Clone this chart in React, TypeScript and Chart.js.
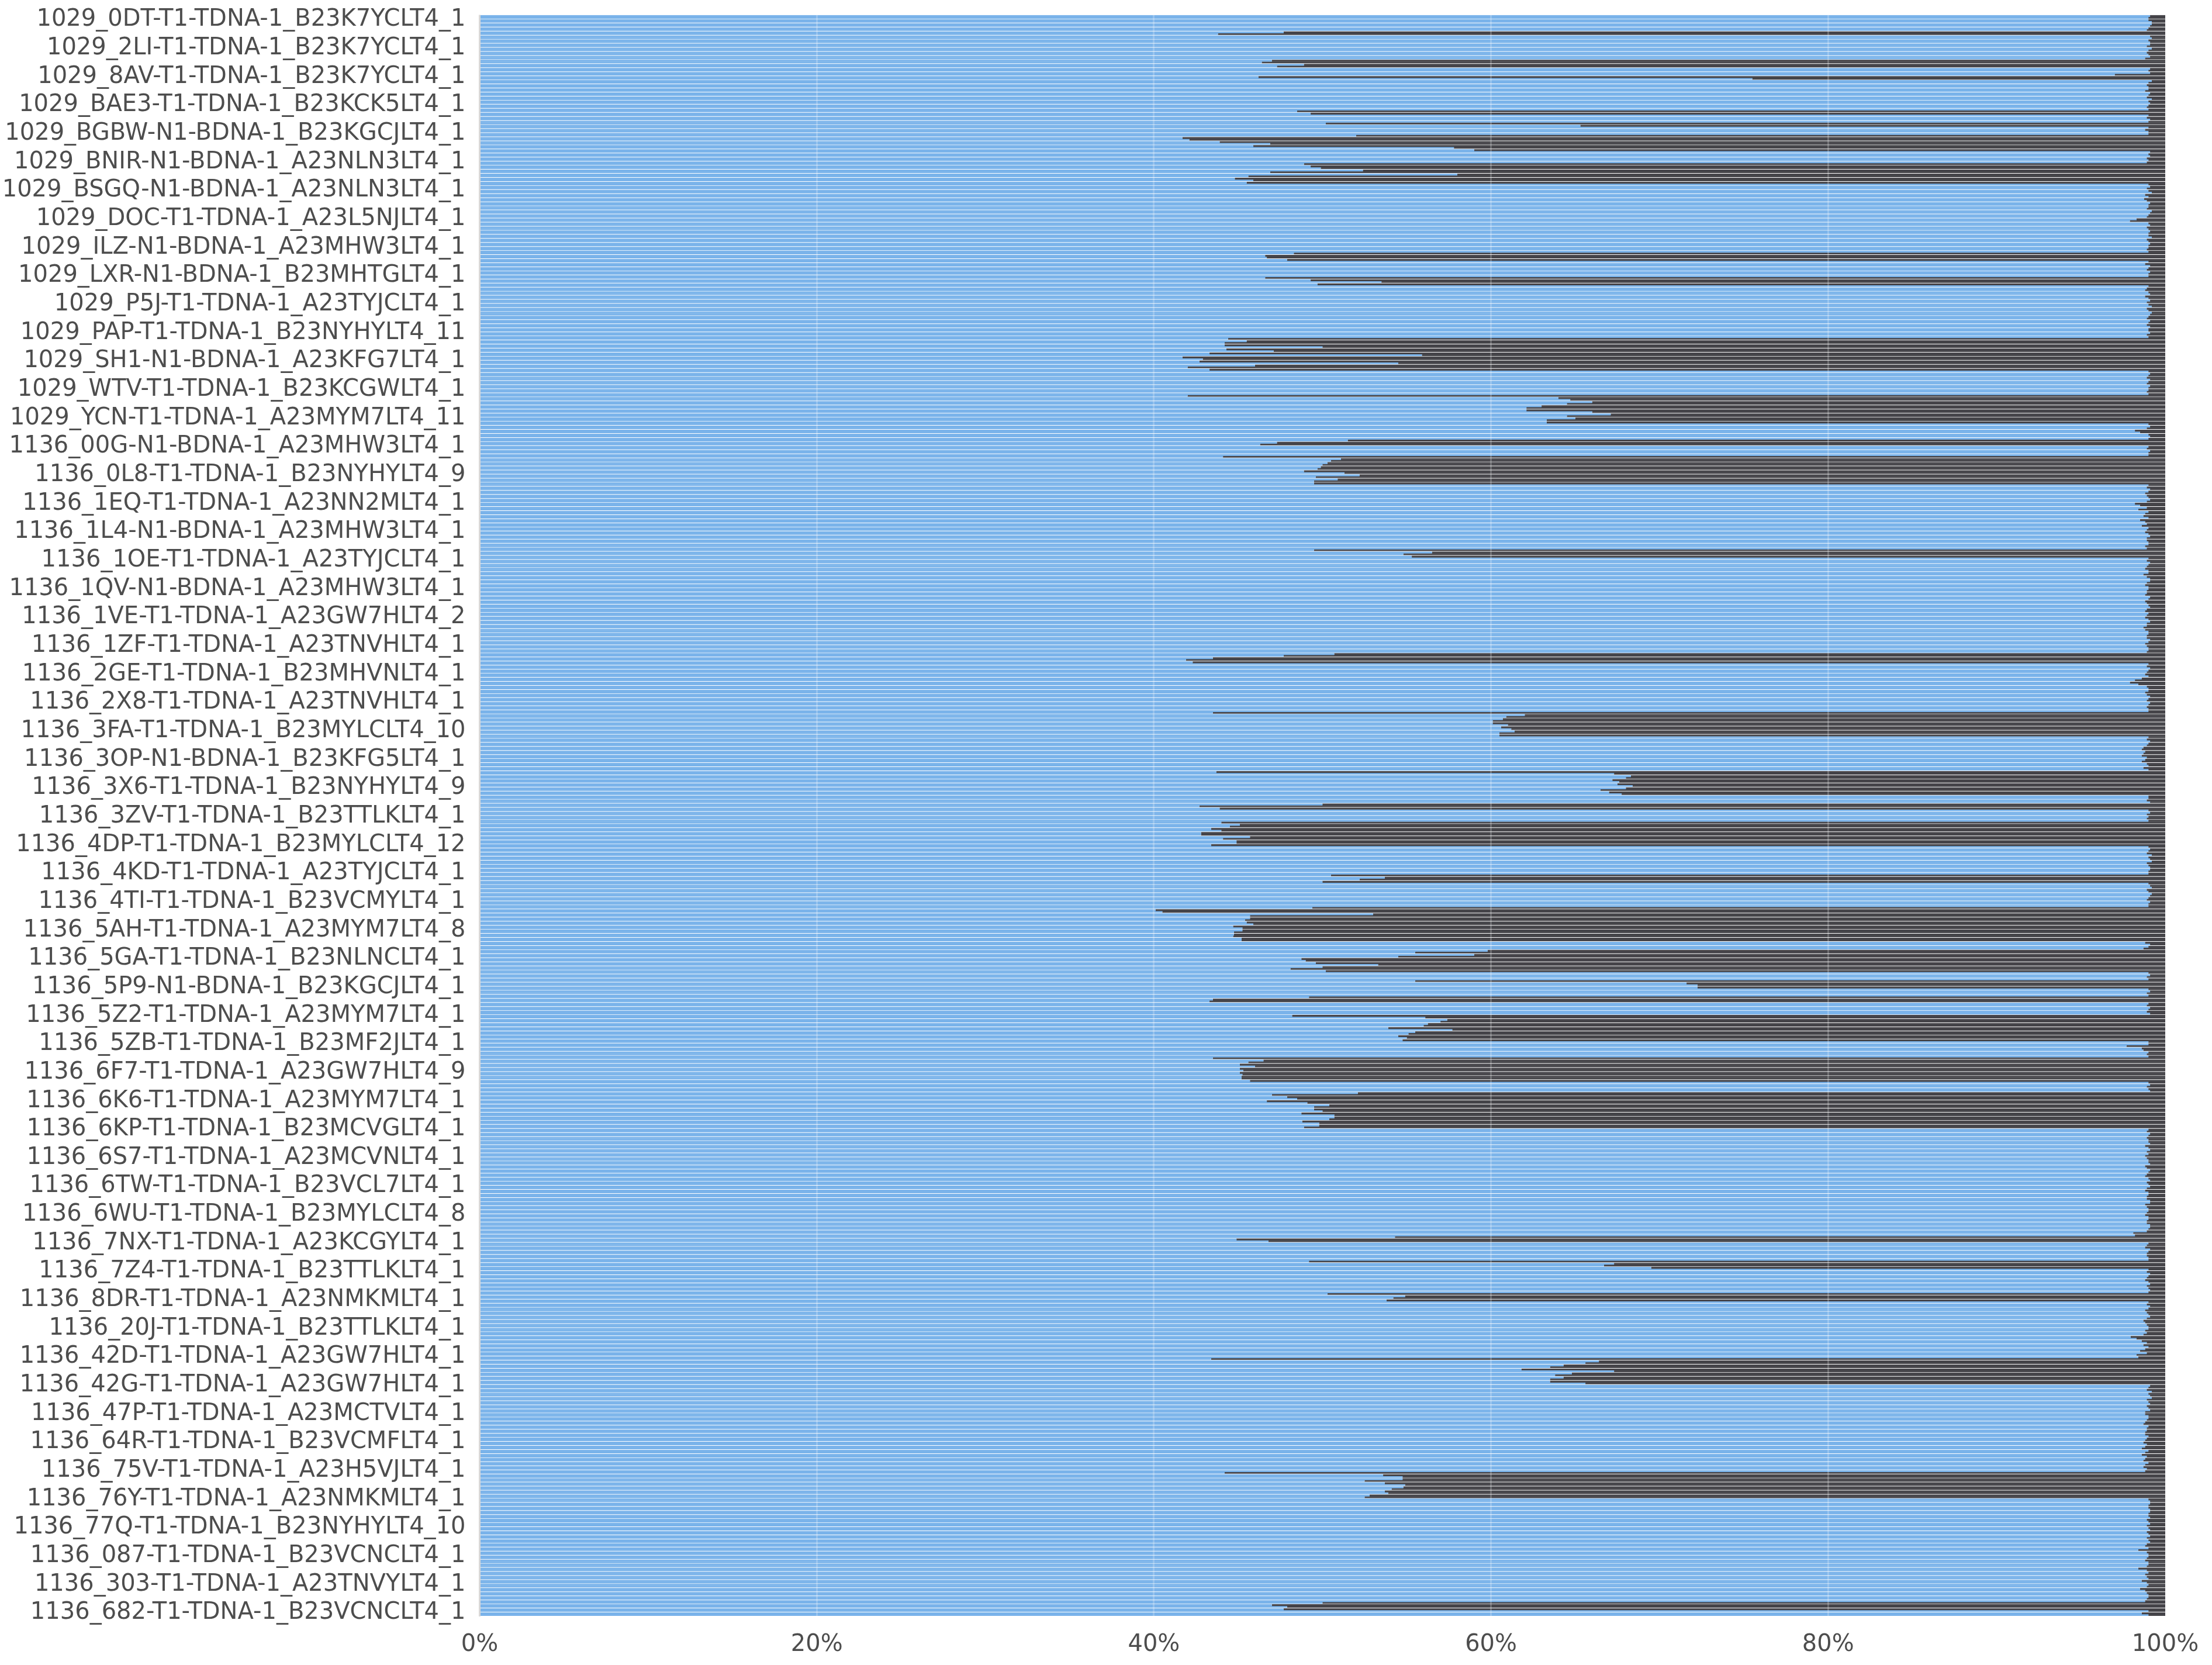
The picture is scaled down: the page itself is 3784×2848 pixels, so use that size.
import React, { useEffect, useRef } from 'react';
import { Chart, registerables } from 'chart.js';

Chart.register(...registerables);

// one labelled sample every 7 rows (each row = one white-separated stripe with an upper and a lower sub-bar)
const sampleNames = [
  '1029_0DT-T1-TDNA-1_B23K7YCLT4_1',
  '1029_2LI-T1-TDNA-1_B23K7YCLT4_1',
  '1029_8AV-T1-TDNA-1_B23K7YCLT4_1',
  '1029_BAE3-T1-TDNA-1_B23KCK5LT4_1',
  '1029_BGBW-N1-BDNA-1_B23KGCJLT4_1',
  '1029_BNIR-N1-BDNA-1_A23NLN3LT4_1',
  '1029_BSGQ-N1-BDNA-1_A23NLN3LT4_1',
  '1029_DOC-T1-TDNA-1_A23L5NJLT4_1',
  '1029_ILZ-N1-BDNA-1_A23MHW3LT4_1',
  '1029_LXR-N1-BDNA-1_B23MHTGLT4_1',
  '1029_P5J-T1-TDNA-1_A23TYJCLT4_1',
  '1029_PAP-T1-TDNA-1_B23NYHYLT4_11',
  '1029_SH1-N1-BDNA-1_A23KFG7LT4_1',
  '1029_WTV-T1-TDNA-1_B23KCGWLT4_1',
  '1029_YCN-T1-TDNA-1_A23MYM7LT4_11',
  '1136_00G-N1-BDNA-1_A23MHW3LT4_1',
  '1136_0L8-T1-TDNA-1_B23NYHYLT4_9',
  '1136_1EQ-T1-TDNA-1_A23NN2MLT4_1',
  '1136_1L4-N1-BDNA-1_A23MHW3LT4_1',
  '1136_1OE-T1-TDNA-1_A23TYJCLT4_1',
  '1136_1QV-N1-BDNA-1_A23MHW3LT4_1',
  '1136_1VE-T1-TDNA-1_A23GW7HLT4_2',
  '1136_1ZF-T1-TDNA-1_A23TNVHLT4_1',
  '1136_2GE-T1-TDNA-1_B23MHVNLT4_1',
  '1136_2X8-T1-TDNA-1_A23TNVHLT4_1',
  '1136_3FA-T1-TDNA-1_B23MYLCLT4_10',
  '1136_3OP-N1-BDNA-1_B23KFG5LT4_1',
  '1136_3X6-T1-TDNA-1_B23NYHYLT4_9',
  '1136_3ZV-T1-TDNA-1_B23TTLKLT4_1',
  '1136_4DP-T1-TDNA-1_B23MYLCLT4_12',
  '1136_4KD-T1-TDNA-1_A23TYJCLT4_1',
  '1136_4TI-T1-TDNA-1_B23VCMYLT4_1',
  '1136_5AH-T1-TDNA-1_A23MYM7LT4_8',
  '1136_5GA-T1-TDNA-1_B23NLNCLT4_1',
  '1136_5P9-N1-BDNA-1_B23KGCJLT4_1',
  '1136_5Z2-T1-TDNA-1_A23MYM7LT4_1',
  '1136_5ZB-T1-TDNA-1_B23MF2JLT4_1',
  '1136_6F7-T1-TDNA-1_A23GW7HLT4_9',
  '1136_6K6-T1-TDNA-1_A23MYM7LT4_1',
  '1136_6KP-T1-TDNA-1_B23MCVGLT4_1',
  '1136_6S7-T1-TDNA-1_A23MCVNLT4_1',
  '1136_6TW-T1-TDNA-1_B23VCL7LT4_1',
  '1136_6WU-T1-TDNA-1_B23MYLCLT4_8',
  '1136_7NX-T1-TDNA-1_A23KCGYLT4_1',
  '1136_7Z4-T1-TDNA-1_B23TTLKLT4_1',
  '1136_8DR-T1-TDNA-1_A23NMKMLT4_1',
  '1136_20J-T1-TDNA-1_B23TTLKLT4_1',
  '1136_42D-T1-TDNA-1_A23GW7HLT4_1',
  '1136_42G-T1-TDNA-1_A23GW7HLT4_1',
  '1136_47P-T1-TDNA-1_A23MCTVLT4_1',
  '1136_64R-T1-TDNA-1_B23VCMFLT4_1',
  '1136_75V-T1-TDNA-1_A23H5VJLT4_1',
  '1136_76Y-T1-TDNA-1_A23NMKMLT4_1',
  '1136_77Q-T1-TDNA-1_B23NYHYLT4_10',
  '1136_087-T1-TDNA-1_B23VCNCLT4_1',
  '1136_303-T1-TDNA-1_A23TNVYLT4_1',
  '1136_682-T1-TDNA-1_B23VCNCLT4_1',
];
const rowsPerSample = 7;

// % of the row that is light blue (upper sub-bar of each stripe); the rest up to 100% is dark
const blueUpper = [
  99.1, 99.0, 99.2, 99.0, 47.7, 99.1, 99.0,
  99.1, 99.2, 98.9, 99.1, 47.0, 48.9, 99.1, 99.1,
  46.2, 99.2, 98.9, 99.0, 99.1, 98.9, 99.0,
  99.0, 99.0, 49.3, 98.9, 99.0, 65.3, 98.8,
  99.0, 41.7, 43.9, 45.9, 59.0, 99.0, 98.9,
  98.9, 49.3, 52.4, 58.0, 44.8, 45.5, 99.1,
  99.0, 98.8, 98.75, 99.1, 99.0, 99.2, 99.0,
  98.3, 99.0, 98.9, 99.1, 99.0, 98.9, 99.1,
  99.0, 99.0, 46.6, 47.9, 98.8, 99.0, 99.1,
  99.0, 49.3, 49.7, 98.9, 99.0, 98.8, 99.1,
  99.0, 98.9, 99.2, 99.0, 99.1, 98.9, 99.0,
  99.1, 99.0, 45.5, 44.2, 44.3, 43.3, 41.7,
  42.7, 46.0, 43.3, 99.1, 98.9, 99.0, 99.1,
  99.0, 99.0, 64.0, 66.0, 63.0, 62.1, 67.1,
  65.0, 63.3, 99.1, 98.2, 99.0, 99.0, 47.3,
  99.0, 99.1, 99.0, 51.1, 50.3, 49.9, 48.9,
  52.2, 50.9, 49.5, 98.9, 99.0, 98.9, 99.1,
  98.2, 98.9, 99.0, 98.7, 98.5, 98.9, 99.0,
  98.8, 99.1, 98.9, 99.0, 98.9, 56.5, 55.3,
  98.9, 99.0, 98.8, 99.0, 98.9, 99.1, 98.8,
  99.0, 98.9, 99.1, 98.8, 99.0, 98.9, 99.0,
  98.8, 99.1, 98.9, 98.8, 99.0, 98.9, 99.0,
  98.9, 99.0, 50.7, 43.5, 42.3, 98.9, 99.0,
  98.8, 98.6, 97.9, 98.9, 99.0, 98.9, 99.0,
  99.1, 98.9, 99.0, 62.0, 60.7, 60.1, 60.6,
  61.4, 60.5, 98.9, 99.0, 98.7, 98.8, 98.6,
  98.8, 98.9, 98.7, 43.7, 68.3, 67.2, 67.5,
  68.0, 67.0, 99.0, 98.9, 50.0, 43.9, 99.1,
  99.0, 99.0, 45.1, 43.4, 42.8, 45.7, 44.9,
  43.4, 99.1, 98.9, 99.0, 99.2, 99.0, 99.1,
  99.0, 53.7, 50.0, 99.1, 98.9, 99.2, 99.0,
  99.1, 99.0, 40.1, 53.0, 45.7, 45.5, 44.7,
  45.25, 44.75, 45.2, 98.8, 99.0, 59.8, 59.0,
  48.75, 49.6, 50.0, 50.2, 99.1, 99.0, 71.6,
  72.25, 99.1, 99.0, 43.5, 99.0, 99.1, 98.9,
  48.2, 57.4, 56.25, 53.9, 55.5, 54.5, 54.75,
  99.0, 98.6, 99.0, 99.0, 46.5, 45.1, 45.1,
  45.1, 45.2, 45.7, 99.1, 99.0, 52.1, 47.9,
  46.7, 50.4, 49.5, 48.75, 50.7, 48.8, 49.8,
  99.0, 99.1, 98.9, 99.0, 98.8, 99.1, 99.0,
  98.9, 99.0, 98.8, 99.1, 98.9, 99.0, 98.9,
  99.1, 98.8, 99.0, 98.9, 99.1, 98.9, 99.0,
  98.8, 99.0, 98.9, 99.1, 98.9, 98.2, 44.9,
  99.0, 98.8, 99.0, 98.9, 99.0, 67.3, 69.5,
  98.9, 99.0, 98.8, 99.1, 99.0, 99.0, 54.9,
  53.8, 98.9, 99.0, 98.9, 99.1, 98.7, 98.9,
  99.0, 98.9, 97.95, 98.6, 98.7, 98.8, 98.9,
  98.4, 66.4, 64.3, 61.8, 64.8, 64.3, 63.5,
  99.1, 98.9, 99.0, 99.2, 99.0, 98.9, 99.1,
  98.8, 99.0, 98.8, 99.0, 98.9, 98.8, 98.9,
  98.7, 98.8, 99.0, 98.6, 98.8, 99.0, 98.7,
  98.8, 53.6, 54.75, 53.7, 54.8, 53.7, 52.8,
  99.0, 99.1, 99.0, 99.1, 99.0, 98.9, 99.1,
  99.0, 98.9, 99.1, 99.0, 98.9, 99.0, 98.9,
  99.0, 98.8, 99.0, 98.4, 99.0, 98.9, 98.6,
  99.0, 98.5, 98.9, 99.0, 98.8, 47.0, 47.7,
  98.6,
];

// % light blue for the lower sub-bar of each stripe
const blueLower = [
  99.0, 99.2, 99.1, 98.9, 43.8, 99.2, 99.1,
  98.9, 99.0, 99.0, 98.8, 46.4, 47.3, 99.0, 97.0,
  75.5, 99.0, 99.0, 98.8, 99.0, 99.2, 99.1,
  98.9, 48.5, 99.0, 99.1, 50.2, 99.0, 99.0,
  52.0, 42.1, 46.9, 57.8, 99.1, 99.1, 99.0,
  48.9, 49.9, 46.9, 45.6, 45.9, 99.0, 98.9,
  99.2, 99.0, 98.9, 99.0, 98.9, 99.1, 98.9,
  97.9, 99.1, 99.0, 99.0, 99.2, 99.0, 99.0,
  98.9, 48.3, 46.7, 99.0, 99.1, 98.9, 99.0,
  46.6, 53.5, 99.0, 98.8, 99.1, 99.0, 98.9,
  99.2, 99.0, 99.1, 98.9, 99.0, 99.1, 99.0,
  98.9, 44.4, 44.2, 50.0, 47.1, 55.9, 42.9,
  54.5, 42.0, 99.0, 99.0, 99.1, 98.9, 99.0,
  98.9, 42.0, 64.7, 64.5, 62.1, 66.0, 64.5,
  63.3, 99.0, 98.9, 98.5, 99.1, 51.5, 46.3,
  98.9, 99.0, 44.1, 50.5, 50.0, 49.7, 51.3,
  49.6, 49.5, 99.0, 99.1, 98.8, 99.0, 98.9,
  98.5, 98.4, 98.8, 99.0, 98.8, 98.6, 98.9,
  99.0, 98.9, 99.0, 98.8, 49.5, 54.8, 99.0,
  99.1, 98.9, 99.0, 98.7, 99.1, 98.9, 99.0,
  98.9, 98.8, 99.0, 98.9, 99.1, 98.8, 98.9,
  99.0, 98.9, 98.7, 99.0, 98.9, 99.1, 98.8,
  99.0, 98.9, 47.7, 41.9, 99.0, 99.1, 98.9,
  99.0, 98.2, 98.4, 99.0, 98.8, 99.1, 98.9,
  99.0, 99.0, 43.5, 60.9, 60.1, 61.0, 61.2,
  60.5, 99.0, 99.1, 98.9, 98.6, 98.7, 98.9,
  98.6, 99.0, 99.0, 67.3, 68.0, 67.6, 68.4,
  66.5, 67.75, 99.0, 99.1, 42.7, 99.0, 98.9,
  98.9, 44.0, 44.5, 44.0, 42.8, 44.1, 44.9,
  99.0, 99.0, 99.2, 99.1, 98.9, 99.1, 99.0,
  50.5, 52.2, 99.0, 99.2, 99.0, 99.1, 98.9,
  99.0, 49.4, 40.5, 45.7, 45.4, 45.9, 45.25,
  44.75, 44.7, 45.2, 99.1, 98.7, 55.5, 54.5,
  49.0, 53.3, 48.1, 99.0, 98.9, 55.5, 72.25,
  99.0, 98.9, 49.2, 43.3, 98.9, 99.0, 99.1,
  56.1, 57.0, 56.0, 57.7, 55.1, 55.0, 99.0,
  97.7, 98.7, 98.9, 43.5, 45.6, 46.0, 45.3,
  45.25, 45.2, 99.0, 98.9, 99.1, 47.0, 48.5,
  49.1, 49.5, 50.0, 50.7, 50.4, 49.8, 48.9,
  98.9, 99.0, 99.0, 99.1, 99.0, 98.9, 98.8,
  99.0, 99.1, 98.9, 99.0, 98.8, 99.1, 99.0,
  98.9, 99.0, 98.9, 99.1, 98.8, 99.0, 98.9,
  99.0, 98.9, 99.1, 99.0, 98.1, 54.3, 46.8,
  98.9, 99.1, 98.9, 99.0, 49.2, 66.7, 99.0,
  99.1, 98.9, 99.0, 98.9, 99.1, 50.3, 54.2,
  99.0, 99.1, 98.8, 99.0, 98.9, 98.8, 99.0,
  98.8, 98.7, 98.3, 98.9, 99.0, 98.5, 98.3,
  43.4, 65.6, 63.5, 67.3, 63.8, 63.5, 65.6,
  99.0, 99.2, 99.1, 98.9, 99.1, 99.0, 98.8,
  99.0, 98.9, 98.7, 98.9, 98.8, 99.0, 98.8,
  98.9, 98.6, 98.8, 98.9, 98.7, 98.8, 98.9,
  44.2, 54.75, 52.5, 54.9, 54.1, 53.9, 52.5,
  99.1, 99.0, 99.1, 99.0, 99.1, 99.0, 98.9,
  99.1, 99.0, 98.9, 99.1, 98.8, 98.4, 99.0,
  98.9, 99.0, 98.9, 98.9, 98.8, 99.0, 98.9,
  98.9, 98.8, 99.0, 98.9, 50.0, 47.9, 99.0,
  99.0,
];

const xTickValues = [0, 20, 40, 60, 80, 100];

const BLUE = '#7ab3ea';
const DARK = '#454449';
const TEXT = '#4d4d4d';
const FONT = 'DejaVu Sans';

export default function App() {
  const canvasRef = useRef<HTMLCanvasElement | null>(null);

  useEffect(() => {
    const canvas = canvasRef.current;
    if (!canvas) return;
    const n = blueUpper.length;
    const rowLabels = Array.from({ length: n }, (_, i) => sampleNames[Math.min(sampleNames.length - 1, Math.floor(i / rowsPerSample))]);
    const darkUpper = blueUpper.map((v) => +(100 - v).toFixed(3));
    const darkLower = blueLower.map((v) => +(100 - v).toFixed(3));

    const common = {
      borderWidth: 0,
      categoryPercentage: 0.8,
      barPercentage: 1.16,
    };

    const chart = new Chart(canvas, {
      type: 'bar',
      data: {
        labels: rowLabels,
        datasets: [
          { ...common, label: 'present', data: blueUpper, backgroundColor: BLUE, stack: 'upper' },
          { ...common, label: 'missing', data: darkUpper, backgroundColor: DARK, stack: 'upper' },
          { ...common, label: 'present', data: blueLower, backgroundColor: BLUE, stack: 'lower' },
          { ...common, label: 'missing', data: darkLower, backgroundColor: DARK, stack: 'lower' },
        ],
      },
      options: {
        indexAxis: 'y',
        animation: false,
        responsive: true,
        maintainAspectRatio: false,
        events: [],
        layout: { padding: { top: 17.4, right: 72, bottom: 0, left: 0 } },
        plugins: {
          legend: { display: false },
          tooltip: { enabled: false },
        },
        scales: {
          x: {
            type: 'linear',
            stacked: true,
            min: 0,
            max: 100,
            afterBuildTicks: (scale: any) => {
              scale.ticks = xTickValues.map((v) => ({ value: v }));
            },
            afterFit: (scale: any) => {
              scale.height = 75.5;
              scale.paddingLeft = 0;
              scale.paddingRight = 0;
            },
            ticks: {
              callback: (v: any) => `${v}%`,
              font: { family: FONT, size: 40 },
              color: TEXT,
              padding: 25,
              maxRotation: 0,
              autoSkip: false,
            },
            grid: {
              z: 1,
              drawTicks: false,
              lineWidth: 3,
              color: (ctx: any) => {
                const v = ctx.tick ? ctx.tick.value : null;
                if (v === 0) return '#d8d8d8';
                if (v === 100) return 'rgba(0,0,0,0)';
                return 'rgba(255,255,255,0.22)';
              },
            },
            border: { display: false },
          },
          y: {
            type: 'category',
            afterFit: (scale: any) => {
              scale.width = 812.5;
              scale.paddingTop = 0;
              scale.paddingBottom = 0;
            },
            ticks: {
              autoSkip: false,
              padding: 24,
              labelOffset: 5,
              font: { family: FONT, size: 40 },
              color: TEXT,
              callback: (_v: any, i: number) =>
                i % rowsPerSample === 0 ? sampleNames[i / rowsPerSample] : '',
            },
            grid: { display: false, drawTicks: false },
            border: { display: false },
          },
        },
      } as any,
    });

    return () => chart.destroy();
  }, []);

  return (
    <div style={{ width: 3768, height: 2832, position: 'relative' }}>
      <canvas ref={canvasRef} />
    </div>
  );
}
